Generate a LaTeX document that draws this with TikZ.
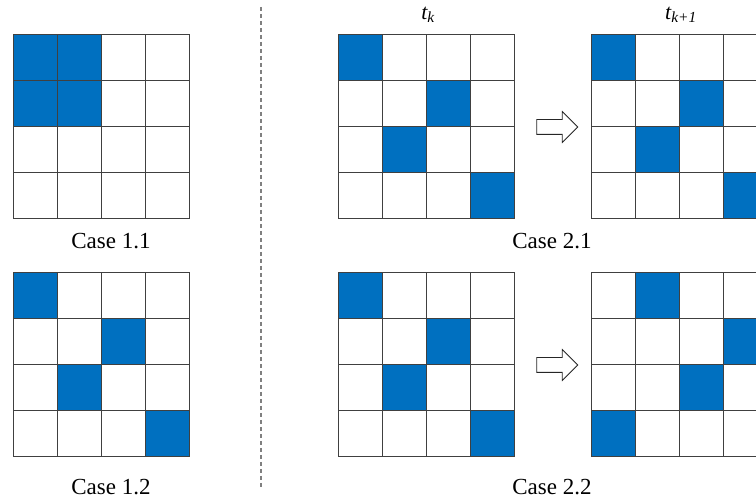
\documentclass[tikz,border=0pt]{standalone}
\usepackage{fontspec}
\setmainfont{Liberation Serif}
\usepackage{xcolor}
\usetikzlibrary{shapes.arrows, positioning}
\definecolor{cellblue}{HTML}{0070C0}
\tikzset{cell/.style = { draw = black!75, line width = 0.8pt, minimum width = 44pt, minimum height = 46pt, inner sep = 0pt, outer sep = 0pt }}

\begin{document}
\begin{tikzpicture}[x = 1pt, y = -1pt,
		on/.style = { cell, fill = cellblue },
		caption/.style = { font = \fontsize{23}{27}\selectfont, inner sep = 0pt },
		stamp/.style = { font = \fontsize{22}{26}\selectfont\itshape, inner sep = 0pt },
		move/.style = { single arrow, draw = black!85, fill = white, line width = 0.8pt, minimum height = 41pt, inner xsep = 0pt, inner ysep = 7pt, single arrow head extend = 8pt },
		divider/.style = { draw = black!50, line width = 1.5pt, dash pattern = on 4pt off 3pt }]
		\useasboundingbox (0,0) rectangle (756,502);

		% boards: a = 1.1, d = 1.2, b/c = 2.1, e/f = 2.2
		\foreach \g/\x/\y in {a/13/34, b/338/34, c/591/34, d/13/272, e/338/272, f/591/272}
			\foreach \r in {1,...,4}
				\foreach \c in {1,...,4}
					\node [cell] (\g\r\c) at (\x+44*\c-22, \y+46*\r-23) {};

		\foreach \n in {a11, a12, a21, a22, d11, d23, d32, d44, b11, b23, b32, b44, c11, c23, c32, c44, e11, e23, e32, e44, f12, f24, f33, f41}
			\node [on] at (\n) {};

		\node [caption] (case11) at (111,241) {Case 1.1};
		\node [caption] (case12) at (111,487) {Case 1.2};
		\node [caption] (case21) at (552,241) {Case 2.1};
		\node [caption] (case22) at (552,487) {Case 2.2};

		\node [stamp] (tk)  at (428,15) {t\textsubscript{k}};
		\node [stamp] (tk1) at (681,15) {t\textsubscript{k+1}};

		\node [move] (step1) at (553.5,127) {};
		\node [move] (step2) at (553.5,365) {};

		\coordinate (divtop) at (261,7);
		\coordinate (divbot) at (261,488);
		\draw [divider] (divtop) -- (divbot);
	\end{tikzpicture}
\end{document}
